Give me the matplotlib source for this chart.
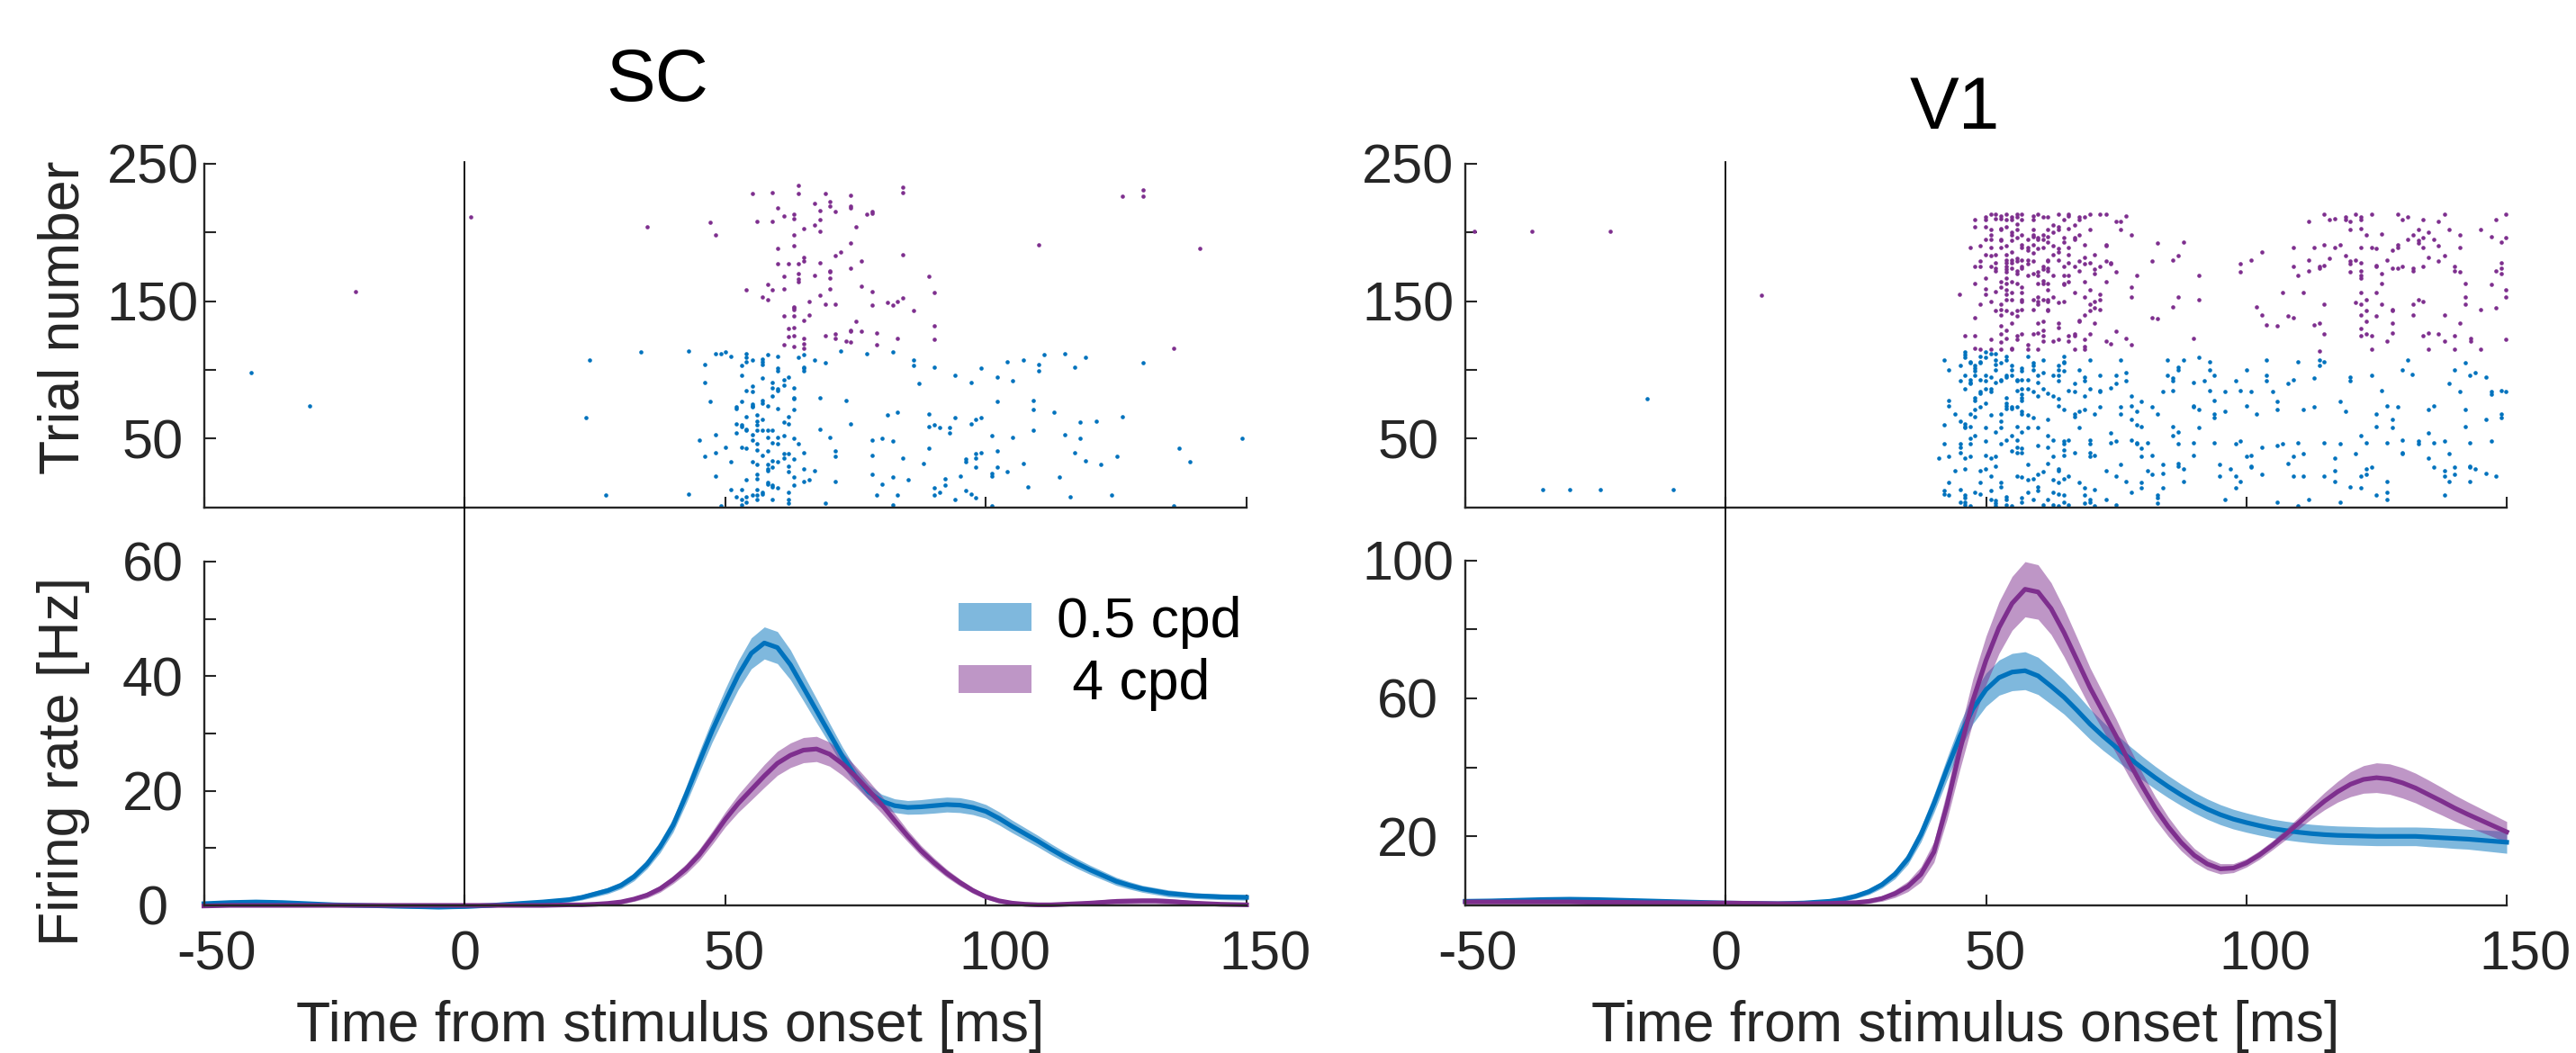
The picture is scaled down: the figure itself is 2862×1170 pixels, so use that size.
import numpy as np
import matplotlib.pyplot as plt
from matplotlib.patches import Patch
from matplotlib import transforms

plt.rcParams['font.family'] = ['Liberation Sans', 'DejaVu Sans']
plt.rcParams['axes.unicode_minus'] = False

# ---------------- data ----------------
# firing rate time base (ms)
t_rate = [-50, -45, -40, -35, -30, -25, -20, -15, -10, -5, 0, 5, 10, 15,
          20, 22.5, 25, 27.5, 30, 32.5, 35, 37.5, 40, 42.5, 45, 47.5, 50, 52.5, 55, 57.5, 60,
          62.5, 65, 67.5, 70, 72.5, 75, 77.5, 80, 82.5, 85, 87.5, 90, 92.5, 95, 97.5, 100,
          102.5, 105, 107.5, 110, 112.5, 115, 117.5, 120, 122.5, 125, 127.5, 130, 132.5, 135,
          137.5, 140, 142.5, 145, 147.5, 150]

sc_blue_rate = [0.3, 0.5, 0.6, 0.5, 0.3, 0.1, 0.0, -0.1, -0.2, -0.3, -0.2, 0.0, 0.3, 0.6,
                1.0, 1.4, 2.0, 2.6, 3.5, 5.0, 7.2, 10.2, 14.0, 19.3, 25.0, 30.5, 35.5, 40.2, 44.0,
                45.8, 45.0, 42.0, 38.0, 34.0, 30.0, 26.0, 22.5, 19.8, 18.2, 17.4, 17.1, 17.2, 17.4,
                17.6, 17.5, 17.1, 16.4, 15.2, 13.8, 12.5, 11.2,
                9.8, 8.5, 7.3, 6.2, 5.2, 4.2, 3.5, 2.9, 2.5, 2.1, 1.9, 1.7, 1.6, 1.5, 1.45, 1.4]
sc_blue_sem = [0.3, 0.3, 0.3, 0.3, 0.3, 0.3, 0.3, 0.3, 0.3, 0.3, 0.3, 0.3, 0.3, 0.3,
               0.4, 0.45, 0.5, 0.55, 0.6, 0.7, 0.8, 1.0, 1.2, 1.5, 1.8, 2.0, 2.3, 2.5, 2.7,
               2.8, 2.8, 2.6, 2.3, 2.1, 1.8, 1.6, 1.4, 1.3, 1.2, 1.2, 1.2, 1.25, 1.3,
               1.3, 1.3, 1.25, 1.2, 1.15, 1.1, 1.05, 1.0,
               0.95, 0.9, 0.85, 0.8, 0.75, 0.7, 0.65, 0.6, 0.6, 0.6, 0.55, 0.5, 0.5, 0.5, 0.5, 0.5]
sc_purple_rate = [-0.1, 0.0, 0.0, 0.0, 0.0, 0.0, 0.0, 0.0, 0.0, 0.0, 0.0, 0.0, 0.0, 0.0,
                  0.1, 0.1, 0.2, 0.35, 0.6, 1.1, 1.8, 2.9, 4.5, 6.4, 8.8, 11.8, 15.0, 17.8, 20.2,
                  22.6, 24.8, 26.2, 27.1, 27.3, 26.4, 24.7, 22.5, 20.1, 17.6, 14.8, 12.1, 9.6, 7.5,
                  5.6, 4.0, 2.6, 1.5, 0.8, 0.4, 0.2, 0.1,
                  0.1, 0.2, 0.3, 0.4, 0.55, 0.7, 0.75, 0.8, 0.8, 0.7, 0.55, 0.4, 0.3, 0.2, 0.15, 0.1]
sc_purple_sem = [0.2, 0.2, 0.2, 0.2, 0.2, 0.2, 0.2, 0.2, 0.2, 0.2, 0.2, 0.2, 0.2, 0.2,
                 0.2, 0.2, 0.25, 0.3, 0.35, 0.4, 0.5, 0.6, 0.7, 0.85, 1.0, 1.15, 1.3, 1.55, 1.8,
                 2.0, 2.1, 2.15, 2.2, 2.2, 2.1, 2.0, 1.8, 1.65, 1.5, 1.25, 1.0, 0.9, 0.8,
                 0.7, 0.6, 0.5, 0.4, 0.35, 0.3, 0.3, 0.3,
                 0.3, 0.3, 0.35, 0.4, 0.45, 0.5, 0.5, 0.5, 0.5, 0.5, 0.45, 0.4, 0.35, 0.3, 0.25, 0.2]

v1_blue_rate = [1.2, 1.3, 1.5, 1.7, 1.8, 1.7, 1.5, 1.3, 1.1, 0.9, 0.7, 0.6, 0.5, 0.7,
                1.2, 1.8, 2.7, 4.0, 6.0, 9.0, 13.5, 20.5, 29.5, 39.5, 49.0, 57.0, 62.5, 66.0, 67.6,
                68.0, 66.5, 63.5, 60.3, 56.5, 52.5, 49.0, 45.8, 42.7, 39.8, 37.0, 34.4, 32.0, 29.8,
                27.9, 26.3, 25.0, 24.0, 23.1, 22.3, 21.7, 21.2,
                20.8, 20.5, 20.3, 20.2, 20.1, 20.0, 20.0, 20.0, 20.0, 19.8, 19.6, 19.4, 19.2, 18.9,
                18.6, 18.3]
v1_blue_sem = [0.4, 0.4, 0.4, 0.4, 0.4, 0.4, 0.4, 0.4, 0.4, 0.4, 0.4, 0.4, 0.4, 0.4,
               0.5, 0.6, 0.7, 0.85, 1.0, 1.3, 1.6, 2.1, 2.6, 3.2, 3.8, 4.3, 4.8, 5.1, 5.4,
               5.5, 5.4, 5.2, 4.9, 4.7, 4.4, 4.1, 3.8, 3.6, 3.4, 3.3, 3.2, 3.1, 3.0,
               2.95, 2.9, 2.85, 2.8, 2.75, 2.7, 2.7, 2.7,
               2.7, 2.7, 2.7, 2.7, 2.7, 2.7, 2.7, 2.7, 2.7, 2.8, 2.8, 2.9, 2.9, 3.0, 3.1, 3.2]
v1_purple_rate = [1.0, 1.0, 1.0, 1.0, 1.0, 0.9, 0.9, 0.8, 0.8, 0.7, 0.7, 0.6, 0.5, 0.5,
                  0.6, 0.7, 0.8, 1.2, 2.0, 3.4, 5.5, 9.0, 15.5, 29.0, 45.0, 59.5, 71.0, 80.5, 87.5,
                  91.6, 90.8, 86.0, 79.0, 71.0, 63.0, 56.0, 49.0, 41.5, 34.6, 28.2, 22.8, 18.2, 14.5,
                  12.0, 10.6, 10.8, 12.3, 14.6, 17.4, 20.5, 23.8,
                  27.1, 30.2, 32.9, 35.1, 36.5, 37.0, 36.6, 35.5, 34.0, 32.1, 30.2, 28.2, 26.4, 24.7,
                  23.0, 21.3]
v1_purple_sem = [0.4, 0.4, 0.4, 0.4, 0.4, 0.4, 0.4, 0.4, 0.4, 0.4, 0.4, 0.4, 0.4, 0.4,
                 0.4, 0.45, 0.5, 0.6, 0.8, 1.1, 1.5, 2.2, 3.0, 4.2, 5.5, 6.3, 7.0, 7.5, 7.8,
                 8.0, 7.9, 7.5, 7.0, 6.5, 5.8, 5.4, 5.0, 4.4, 3.8, 3.3, 2.8, 2.4, 2.0,
                 1.7, 1.5, 1.3, 1.2, 1.25, 1.3, 1.5, 1.7,
                 2.0, 2.5, 3.0, 3.6, 4.0, 4.3, 4.4, 4.4, 4.3, 4.2, 4.0, 3.8, 3.6, 3.4, 3.2, 3.0]

# raster spikes: (time ms, trial)
sc_blue_spikes = [
    (48.1, 112), (49.1, 112), (50.1, 113), (51.1, 110), (54.1, 112), (54.1, 109), (54.1, 106),
    (55.2, 107), (57.1, 108), (57.1, 106), (57.1, 104), (58.1, 111), (60.1, 110), (64.1, 109),
    (65.1, 111), (67.1, 107), (69.2, 105), (72.1, 114), (77.1, 112), (82.1, 113), (86.1, 107),
    (86.1, 103), (90.1, 102), (46.1, 104), (53.1, 103), (60.1, 101), (60.1, 99), (65.1, 102),
    (65.1, 101), (65.1, 99), (99.1, 101), (104.1, 106), (107.1, 107), (110.1, 104), (110.1, 99),
    (111.1, 111), (115.1, 112), (119.1, 109), (117.1, 102), (130.1, 105),
    (53.1, 96), (57.1, 94), (59.1, 91), (59.1, 87), (61.2, 93), (61.2, 89), (62.1, 95), (60.1, 86),
    (60.1, 85), (54.1, 85), (55.2, 88), (55.2, 84), (63.2, 87), (46.1, 91), (94.1, 96), (97.1, 91),
    (102.1, 95), (105.1, 92), (87.1, 90),
    (59.1, 81), (63.2, 80), (63.2, 79), (68.1, 80), (73.1, 78), (53.1, 77), (55.2, 75), (55.2, 74),
    (55.2, 73), (57.1, 78), (57.1, 76), (58.1, 74), (52.2, 73), (52.2, 72), (60.1, 72), (63.2, 71),
    (47.1, 77), (102.1, 77), (109.1, 78), (109.1, 71), (113.1, 69),
    (54.1, 66), (56.1, 67), (56.1, 63), (57.1, 64), (62.1, 66), (61.2, 62), (62.1, 61), (52.2, 61),
    (53.1, 60), (53.1, 59), (54.1, 57), (54.1, 56), (56.1, 60), (56.1, 56), (57.1, 56), (58.1, 56),
    (59.1, 56), (68.1, 57), (74.1, 61), (81.1, 67), (83.1, 69), (89.1, 68), (89.1, 59), (90.1, 60),
    (91.1, 58), (93.1, 58), (93.1, 54), (94.1, 65), (97.1, 61), (98.1, 64), (99.1, 65), (118.1, 62),
    (121.1, 63), (126.1, 66), (109.1, 56),
    (48.1, 53), (52.2, 54), (55.2, 53), (55.2, 49), (58.1, 51), (60.1, 51), (61.2, 52), (63.2, 50),
    (64.1, 46), (56.1, 46), (60.1, 46), (59.1, 47), (70.1, 51), (78.1, 49), (80.1, 50), (82.1, 48),
    (101.1, 52), (105.1, 51), (115.1, 53), (118.1, 50), (149.1, 50), (45.1, 49),
    (50.1, 44), (53.1, 44), (54.1, 43), (56.1, 42), (57.1, 38), (58.1, 41), (61.2, 39), (61.2, 36),
    (62.1, 39), (63.2, 35), (65.1, 40), (71.1, 41), (71.1, 37), (78.1, 38), (84.1, 36), (89.1, 43),
    (96.1, 35), (96.1, 33), (98.1, 39), (98.1, 36), (99.1, 40), (102.1, 41), (117.1, 40), (137.1, 43),
    (46.1, 37), (48.1, 40),
    (51.1, 33), (55.2, 33), (56.1, 31), (58.1, 31), (58.1, 28), (58.1, 27), (59.1, 29), (59.1, 34),
    (60.1, 33), (62.1, 30), (62.1, 26), (67.1, 27), (65.1, 28), (88.1, 32), (98.1, 29), (102.1, 29),
    (104.1, 26), (107.1, 32), (119.1, 34), (122.1, 31), (125.1, 37), (139.1, 33),
    (48.1, 23), (54.1, 20), (56.1, 24), (56.1, 21), (58.1, 18), (58.1, 17), (59.1, 16), (59.1, 15),
    (60.1, 14), (63.2, 22), (63.2, 16), (65.1, 19), (66.1, 20), (71.1, 19), (78.1, 24), (80.1, 17),
    (82.1, 22), (85.1, 20), (92.1, 21), (92.1, 16), (95.1, 23), (101.1, 25), (101.1, 23), (114.1, 22),
    (108.1, 15),
    (51.1, 13), (53.1, 13), (56.1, 13), (57.1, 11), (57.1, 10), (55.2, 9), (54.1, 8), (52.2, 8),
    (53.1, 6), (54.1, 4), (56.1, 9), (56.1, 6), (59.1, 6), (62.1, 11), (62.1, 6), (62.1, 3), (53.1, 2),
    (69.2, 3), (79.1, 9), (83.1, 9), (90.1, 14), (90.1, 9), (91.1, 11), (94.1, 6), (96.1, 12),
    (97.1, 10), (98.1, 7), (116.1, 8), (124.1, 9), (49.1, 1), (82.1, 2), (101.1, 1), (136.1, 1),
    (-40.9, 98), (-29.8, 74), (24.0, 107), (23.2, 65), (27.0, 9), (33.9, 113), (43.0, 114), (43.0, 10),
]

sc_purple_spikes = [
    (64.0, 234), (84.1, 233), (55.2, 228), (59.1, 229), (64.1, 228), (69.2, 228), (74.1, 227),
    (84.1, 229), (126.1, 226), (130.1, 231), (130.1, 226),
    (67.1, 221), (70.1, 222), (70.1, 219), (74.1, 219), (74.1, 218), (60.1, 218), (68.1, 216),
    (71.1, 215), (61.2, 212), (63.2, 213), (63.2, 210), (77.1, 213), (78.1, 215), (78.1, 214),
    (47.1, 207), (56.1, 208), (59.1, 208), (68.1, 209), (67.1, 205), (65.1, 203), (68.1, 201),
    (75.1, 204), (48.1, 198), (63.2, 198), (63.2, 190), (74.1, 192), (60.1, 188), (72.1, 186),
    (71.1, 183), (84.1, 184), (110.1, 191), (141.1, 188),
    (65.1, 182), (65.1, 179), (68.1, 178), (76.1, 179), (60.1, 177), (62.1, 177), (64.1, 177),
    (74.1, 174), (64.1, 170), (70.1, 172), (70.1, 171), (70.1, 167), (67.1, 169), (61.2, 168),
    (64.1, 166), (64.1, 164), (89.1, 168),
    (58.1, 162), (54.1, 158), (59.1, 158), (61.2, 159), (70.1, 159), (76.1, 161), (78.1, 157),
    (90.1, 156), (57.1, 153), (58.1, 151), (68.1, 154), (66.1, 150), (69.2, 148), (71.1, 148),
    (78.1, 147), (81.1, 149), (82.1, 147), (83.1, 150), (84.1, 152), (86.1, 143),
    (63.2, 146), (63.2, 145), (63.2, 144), (61.2, 139), (63.2, 139), (66.1, 140), (65.1, 136),
    (75.1, 135), (62.1, 130), (63.2, 131), (74.1, 129), (74.1, 128), (76.1, 128), (79.1, 127),
    (90.1, 132),
    (62.1, 124), (63.2, 125), (65.1, 123), (69.2, 125), (71.1, 126), (71.1, 123), (73.1, 121),
    (74.1, 120), (79.1, 118), (83.1, 123), (90.1, 122), (61.2, 118), (63.2, 117), (65.1, 119),
    (65.1, 116), (136.1, 116),
    (1.2, 211), (35.0, 204), (-20.9, 157),
]

v1_blue_spikes = [
    (42.0, 107), (42.9, 100), (45.0, 103), (45.9, 113), (45.9, 111), (45.9, 109), (47.0, 106),
    (47.0, 105), (47.9, 103), (47.9, 101), (47.9, 99), (47.9, 96), (48.9, 110), (48.9, 106),
    (48.9, 105), (49.9, 113), (49.9, 109), (50.9, 112), (51.9, 112), (51.9, 107), (51.9, 104),
    (51.9, 100), (52.9, 105), (53.9, 110), (53.9, 107), (54.9, 103), (54.9, 100), (56.9, 101),
    (56.9, 99), (58.0, 110), (59.0, 105), (59.0, 103), (59.0, 100), (61.0, 107), (64.0, 103),
    (64.0, 100), (64.9, 110), (64.9, 106), (64.9, 105), (64.9, 99), (67.9, 100), (70.0, 107),
    (75.9, 107), (84.9, 107), (86.9, 102), (86.9, 100), (87.9, 107), (90.9, 109), (92.9, 106),
    (92.9, 100), (93.9, 96),
    (45.0, 92), (45.9, 96), (45.9, 86), (47.0, 93), (47.0, 91), (47.0, 90), (48.9, 93), (49.9, 96),
    (49.9, 92), (50.9, 95), (51.9, 91), (52.9, 93), (52.9, 92), (53.9, 96), (53.9, 95), (54.9, 96),
    (56.0, 93), (56.0, 92), (56.9, 93), (58.0, 93), (59.9, 96), (59.9, 91), (61.0, 98), (62.9, 96),
    (64.0, 96), (64.0, 92), (67.0, 90), (68.9, 95), (68.9, 92), (71.9, 96), (73.9, 87), (74.9, 96),
    (74.9, 90), (76.9, 98), (76.9, 92), (84.9, 96), (85.9, 94), (85.9, 92), (89.9, 91), (91.9, 92),
    (92.9, 85), (84.0, 84), (85.9, 85),
    (42.9, 78), (42.9, 74), (47.9, 80), (47.9, 78), (48.9, 83), (48.9, 84), (49.9, 86), (50.9, 86),
    (50.9, 84), (53.9, 80), (53.9, 76), (53.9, 74), (54.9, 72), (56.0, 85), (56.0, 73), (56.9, 86),
    (56.9, 82), (56.9, 80), (56.9, 78), (58.0, 86), (59.0, 84), (59.9, 81), (61.0, 86), (61.9, 83),
    (62.9, 81), (64.0, 79), (64.0, 74), (64.9, 71), (65.9, 85), (67.0, 84), (68.9, 81), (70.0, 86),
    (71.9, 85), (71.9, 84), (78.0, 81), (79.9, 77), (93.9, 78),
    (44.0, 68), (45.0, 63), (45.9, 61), (45.9, 59), (45.9, 58), (47.0, 59), (47.0, 68), (47.9, 71),
    (47.9, 66), (48.9, 73), (49.9, 76), (49.9, 58), (50.9, 67), (51.9, 55), (52.9, 68), (52.9, 63),
    (52.9, 58), (53.9, 72), (54.9, 73), (56.0, 59), (56.9, 70), (56.9, 68), (56.9, 55), (58.0, 67),
    (58.0, 58), (59.0, 65), (59.9, 58), (61.9, 64), (67.0, 68), (67.0, 66), (67.9, 70), (67.9, 58),
    (68.9, 71), (70.9, 68), (71.9, 73), (75.9, 73), (75.9, 68), (78.0, 74), (78.0, 64), (78.9, 70),
    (78.9, 60), (79.9, 59), (81.9, 73), (82.9, 68), (89.9, 74), (89.9, 73), (90.9, 71), (93.9, 68),
    (93.9, 65), (85.9, 59),
    (42.0, 60), (42.0, 46), (45.0, 46), (45.0, 44), (45.0, 40), (45.9, 36), (47.0, 50), (47.0, 46),
    (47.9, 52), (49.9, 48), (52.9, 46), (53.9, 49), (54.9, 52), (56.0, 49), (56.0, 44), (56.0, 40),
    (56.9, 43), (56.9, 40), (59.9, 45), (61.9, 52), (61.9, 44), (62.9, 49), (64.9, 48), (64.9, 46),
    (65.9, 49), (64.9, 42), (64.9, 38), (67.0, 40), (70.0, 49), (70.0, 46), (70.0, 40), (70.0, 37),
    (70.9, 38), (73.9, 54), (73.9, 47), (74.9, 48), (78.0, 49), (78.9, 47), (78.9, 46), (79.9, 43),
    (81.0, 47), (81.9, 38), (79.9, 37), (85.9, 52), (86.9, 55), (86.9, 46), (89.9, 47), (89.9, 38),
    (90.9, 58), (93.9, 47),
    (40.9, 36), (42.9, 37), (47.0, 37), (49.9, 38), (50.9, 36), (51.9, 37), (54.9, 41), (62.9, 37),
    (51.9, 30), (58.0, 31), (61.9, 32), (44.0, 27), (45.9, 28), (48.9, 27), (49.9, 28), (50.9, 23),
    (64.0, 28), (64.0, 27), (73.0, 27), (75.9, 31), (81.0, 27), (81.9, 24), (84.0, 31), (84.0, 25),
    (86.9, 32), (86.9, 30), (87.9, 28), (94.9, 31), (94.9, 23),
    (42.9, 18), (48.9, 18), (52.9, 18), (52.9, 15), (56.0, 23), (56.9, 22), (58.0, 20), (59.0, 21),
    (59.9, 24), (59.9, 15), (61.0, 26), (62.9, 20), (64.0, 18), (64.9, 21), (65.9, 23), (67.9, 18),
    (68.9, 14), (70.9, 13), (74.9, 23), (76.9, 19), (79.9, 18), (79.9, 14), (84.0, 14), (87.9, 19),
    (42.0, 12), (42.0, 10), (42.9, 9), (45.0, 13), (45.9, 9), (45.9, 7), (45.9, 4), (45.9, 2),
    (47.0, 1), (47.9, 11), (48.9, 10), (50.9, 12), (50.9, 6), (51.9, 5), (51.9, 3), (51.9, 1),
    (53.9, 8), (53.9, 6), (53.9, 2), (54.9, 1), (56.9, 7), (56.9, 4), (58.0, 11), (59.0, 6),
    (59.9, 12), (61.0, 2), (61.9, 6), (62.9, 11), (62.9, 2), (64.0, 10), (64.0, 1), (64.9, 9),
    (64.9, 4), (65.9, 2), (68.9, 9), (68.9, 3), (70.0, 6), (70.0, 4), (70.9, 1), (73.0, 6), (74.9, 2),
    (78.0, 11), (82.9, 9), (82.9, 7), (82.9, 3), (45.0, 4),
    (103.9, 107), (109.9, 106), (114.0, 107), (114.0, 103), (114.9, 106), (131.0, 107), (142.0, 105),
    (100.0, 100), (130.0, 100), (139.9, 100), (131.9, 97), (142.9, 96), (144.0, 98), (146.0, 95),
    (103.9, 96), (103.9, 92), (97.9, 92), (108.0, 90), (109.0, 93), (113.0, 94), (120.0, 95),
    (120.0, 92), (124.0, 96), (139.0, 90),
    (95.9, 84), (98.9, 85), (100.9, 84), (105.0, 84), (126.0, 85), (141.0, 84), (147.0, 84),
    (147.0, 82), (149.0, 85), (149.9, 84), (106.0, 77), (118.0, 77),
    (100.0, 74), (106.0, 71), (111.0, 71), (113.0, 73), (119.0, 70), (127.0, 74), (129.0, 73),
    (135.0, 71), (136.0, 74), (142.0, 71), (95.9, 70), (101.9, 68), (125.0, 68), (128.0, 64),
    (149.0, 68), (149.0, 65), (146.0, 64),
    (125.0, 59), (128.0, 58), (142.0, 59), (135.0, 54), (122.0, 52), (130.0, 49), (133.0, 48),
    (133.0, 46), (138.0, 48), (147.0, 48), (97.9, 46), (98.9, 48), (103.0, 44), (106.0, 45),
    (106.9, 46), (109.9, 47), (114.9, 47), (118.0, 46), (123.0, 47), (127.0, 47), (136.0, 47),
    (142.9, 47),
    (100.0, 37), (100.9, 38), (109.0, 37), (111.0, 39), (117.0, 36), (121.0, 39), (130.0, 40),
    (130.0, 39), (135.0, 36), (139.0, 39), (97.0, 28), (100.9, 30), (100.9, 29), (108.0, 32),
    (117.0, 27), (124.0, 29), (123.0, 28), (136.0, 29), (138.0, 27), (139.9, 29), (142.9, 30),
    (142.9, 29), (144.0, 28), (97.9, 23), (103.0, 24), (109.0, 23), (111.0, 23), (114.9, 23),
    (122.0, 23), (123.0, 24), (138.0, 23), (139.9, 24), (146.0, 25), (148.0, 23),
    (98.9, 19), (97.9, 14), (117.0, 19), (120.0, 15), (122.0, 14), (127.0, 19), (139.0, 19),
    (142.9, 19), (95.9, 6), (106.0, 4), (109.9, 1), (111.9, 6), (118.0, 4), (125.0, 9), (127.0, 11),
    (127.0, 6), (138.0, 9),
    (-35.1, 13), (-30.0, 13), (-24.1, 13), (-10.1, 13), (-15.1, 79),
]

v1_purple_spikes = [
    (50.9, 213), (51.9, 213), (51.9, 210), (52.9, 212), (52.9, 210), (53.9, 213), (53.9, 209),
    (54.9, 211), (54.9, 209), (56.0, 213), (56.0, 211), (56.9, 213), (56.9, 209), (59.0, 212),
    (59.0, 209), (59.9, 213), (61.0, 211), (61.9, 211), (64.0, 213), (64.9, 209), (65.9, 213),
    (65.9, 212), (67.9, 211), (67.9, 209), (68.9, 211), (70.0, 213), (71.9, 213), (73.0, 213),
    (74.9, 208), (75.9, 208), (76.9, 212), (47.9, 209), (49.9, 211), (49.9, 209), (56.0, 206),
    (47.9, 204), (49.9, 204), (50.9, 202), (52.9, 203), (52.9, 202), (53.9, 204), (54.9, 200),
    (56.0, 202), (56.9, 198), (59.0, 202), (59.0, 198), (61.0, 198), (61.9, 202), (62.9, 205),
    (62.9, 200), (64.0, 204), (64.0, 202), (65.9, 203), (67.0, 205), (67.9, 198), (70.0, 202),
    (75.9, 202), (78.0, 198),
    (49.9, 195), (50.9, 198), (50.9, 195), (52.9, 195), (52.9, 194), (54.9, 198), (54.9, 194),
    (56.0, 196), (58.0, 195), (59.0, 197), (59.9, 196), (59.9, 195), (61.0, 195), (61.9, 197),
    (64.9, 196), (64.9, 193), (67.0, 196), (67.0, 195), (68.9, 191), (73.0, 191), (73.0, 190),
    (82.9, 192), (87.9, 193),
    (46.9, 189), (48.9, 190), (50.9, 189), (52.9, 189), (53.9, 190), (56.9, 191), (56.9, 189),
    (58.0, 189), (58.0, 187), (59.0, 191), (59.9, 188), (61.0, 189), (61.9, 193), (62.9, 190),
    (64.0, 188), (64.0, 186), (65.9, 189), (59.0, 185),
    (49.9, 184), (50.9, 183), (51.9, 184), (53.9, 184), (54.9, 186), (62.9, 184), (65.9, 184),
    (68.9, 182), (70.9, 184), (51.9, 178), (48.9, 179), (53.9, 180), (53.9, 178), (54.9, 180),
    (54.9, 178), (56.0, 181), (56.0, 179), (56.9, 180), (58.0, 180), (58.0, 177), (59.0, 179),
    (61.9, 180), (61.9, 179), (64.0, 180), (65.9, 178), (67.9, 179), (68.9, 177), (70.0, 178),
    (73.0, 179), (73.9, 178), (73.9, 177), (81.9, 179), (85.9, 180), (86.9, 183),
    (47.9, 175), (48.9, 175), (50.9, 175), (51.9, 174), (51.9, 172), (53.9, 175), (53.9, 173),
    (53.9, 171), (54.9, 174), (56.0, 172), (56.0, 170), (56.9, 175), (56.9, 174), (58.0, 169),
    (59.0, 170), (59.9, 171), (59.9, 169), (61.0, 175), (61.0, 173), (61.9, 174), (61.9, 172),
    (62.9, 169), (64.9, 175), (64.9, 169), (65.9, 169), (67.0, 175), (67.9, 172), (70.9, 173),
    (70.9, 170), (71.9, 175), (74.9, 171), (78.9, 169), (90.9, 169),
    (47.9, 163), (49.9, 167), (49.9, 159), (51.9, 157), (52.9, 164), (52.9, 160), (53.9, 167),
    (53.9, 163), (53.9, 158), (54.9, 164), (54.9, 156), (56.0, 163), (56.9, 160), (56.9, 156),
    (59.9, 163), (61.0, 165), (61.0, 163), (61.9, 163), (61.9, 158), (64.9, 163), (64.9, 162),
    (65.9, 164), (68.9, 164), (73.0, 164), (78.0, 160), (44.9, 155), (49.9, 155), (53.9, 155),
    (67.0, 156), (70.0, 158), (71.9, 155),
    (48.9, 148), (50.9, 150), (52.9, 148), (53.9, 151), (54.9, 151), (56.9, 151), (56.9, 150),
    (59.0, 151), (59.9, 153), (59.9, 150), (59.9, 148), (61.0, 151), (61.9, 151), (61.9, 150),
    (62.9, 153), (64.0, 149), (64.9, 150), (68.9, 153), (70.0, 148), (70.9, 150), (71.9, 151),
    (78.0, 153), (86.9, 153), (90.9, 151),
    (47.9, 138), (51.9, 143), (52.9, 144), (52.9, 140), (53.9, 143), (54.9, 141), (56.0, 143),
    (56.0, 139), (56.9, 144), (59.0, 144), (61.9, 144), (61.9, 143), (68.9, 140), (70.0, 143),
    (70.9, 145), (71.9, 144), (81.9, 138), (82.9, 137), (85.9, 146),
    (52.9, 132), (53.9, 129), (54.9, 134), (59.9, 134), (61.0, 135), (61.0, 129), (64.0, 134),
    (64.0, 131), (67.9, 136), (67.9, 135), (70.9, 134), (74.9, 128),
    (45.9, 125), (47.9, 125), (50.9, 122), (52.9, 126), (52.9, 120), (53.9, 123), (56.0, 125),
    (56.0, 122), (56.9, 126), (59.0, 126), (59.9, 127), (61.0, 125), (61.0, 121), (62.9, 121),
    (64.0, 122), (65.9, 125), (65.9, 121), (67.0, 126), (67.0, 125), (68.9, 122), (70.0, 126),
    (73.0, 121), (73.9, 119), (76.9, 123), (78.0, 118), (89.9, 123), (47.9, 116), (48.9, 115),
    (50.9, 115), (52.9, 115), (54.9, 116), (54.9, 115), (58.0, 118), (58.0, 115), (59.9, 115),
    (67.0, 115), (68.9, 117), (68.9, 115),
    (114.9, 213), (116.0, 209), (117.0, 210), (119.0, 211), (119.0, 209), (120.0, 208), (121.0, 213),
    (122.0, 211), (122.0, 209), (124.0, 213), (129.0, 213), (130.0, 209), (131.0, 211), (134.0, 209),
    (136.9, 208), (138.0, 213), (148.0, 209), (149.9, 213), (111.9, 208),
    (120.0, 202), (122.0, 203), (123.0, 198), (126.0, 199), (133.0, 202), (132.0, 198), (131.0, 195),
    (133.0, 194), (133.0, 192), (134.0, 196), (135.0, 200), (136.0, 195), (139.0, 202), (141.0, 198),
    (145.0, 202), (147.0, 197), (149.0, 193), (149.9, 196),
    (103.0, 186), (109.0, 189), (113.0, 189), (114.9, 191), (117.0, 189), (118.0, 191), (122.0, 189),
    (124.0, 189), (125.0, 188), (128.0, 187), (129.0, 191), (129.0, 189), (134.0, 189), (136.9, 190),
    (141.0, 189),
    (98.9, 177), (100.9, 180), (98.9, 171), (109.0, 175), (111.9, 180), (114.0, 175), (114.0, 174),
    (114.9, 176), (116.0, 181), (119.0, 183), (120.0, 179), (120.0, 177), (121.0, 180), (122.0, 178),
    (125.0, 176), (125.0, 175), (127.0, 180), (128.0, 174), (129.0, 174), (130.0, 175), (132.0, 174),
    (132.0, 172), (134.0, 175), (135.0, 182), (136.9, 179), (138.0, 183), (139.9, 175), (139.9, 172),
    (141.0, 171), (149.0, 178), (149.0, 174), (148.0, 172), (149.0, 170),
    (109.9, 169), (111.9, 172), (120.0, 171), (122.0, 172), (122.0, 169), (122.0, 167), (126.0, 170),
    (126.0, 163), (142.0, 163), (147.0, 162), (149.9, 158),
    (106.9, 156), (111.0, 156), (122.0, 156), (125.0, 156), (101.9, 146), (114.9, 148), (121.0, 149),
    (122.0, 148), (123.0, 151), (126.0, 148), (132.0, 148), (133.0, 151), (134.0, 150), (142.0, 153),
    (142.0, 148), (149.9, 153), (145.0, 144), (148.0, 145),
    (103.0, 140), (103.9, 133), (106.0, 132), (108.0, 139), (109.0, 138), (113.0, 133), (114.0, 134),
    (122.0, 140), (123.0, 143), (125.0, 139), (128.0, 144), (128.0, 143), (132.0, 140), (138.0, 140),
    (128.0, 134), (123.0, 135), (122.0, 130), (141.0, 134),
    (114.9, 126), (122.0, 125), (123.0, 126), (124.0, 125), (127.0, 121), (128.0, 127), (134.0, 125),
    (135.0, 127), (136.9, 126), (138.0, 121), (139.9, 125), (143.0, 123), (143.0, 121), (149.9, 122),
    (114.0, 114), (124.0, 115), (135.0, 115), (139.9, 115), (145.0, 115),
    (-48.2, 201), (-37.2, 201), (-22.1, 201), (6.9, 154),
]

x_ticks = [-50, 0, 50, 100, 150]
legend_labels = ['0.5 cpd', ' 4 cpd']

# ---------------- style ----------------
blue = '#0072BD'
purple = '#7E2F8E'
axis_color = '#262626'
W, H = 2862, 1170
fs = 45
# small rightward nudge (px) of the x tick labels, as in the original export
xlabel_shift = [14, 0, 10, 21, 20]

fig = plt.figure(figsize=(W / 100, H / 100), dpi=100)


def px_axes(x0, x1, y_top, y_bot):
    return fig.add_axes([x0 / W, 1 - y_bot / H, (x1 - x0) / W, (y_bot - y_top) / H])


def style(ax, ypad):
    ax.spines['top'].set_visible(False)
    ax.spines['right'].set_visible(False)
    for s in ['left', 'bottom']:
        ax.spines[s].set_linewidth(1.7)
        ax.spines[s].set_color(axis_color)
    ax.tick_params(direction='in', length=9, width=1.5, colors=axis_color, labelsize=fs - 1)
    ax.tick_params(axis='y', pad=ypad)
    ax.tick_params(axis='x', pad=20)
    ax.set_xlim(-50, 150)
    ax.set_xticks(x_ticks)


sc_raster = px_axes(226.5, 1385, 181.7, 563.8)
sc_rate = px_axes(226.5, 1385, 624, 1006)
v1_raster = px_axes(1628, 2785, 181.7, 563.8)
v1_rate = px_axes(1628, 2785, 622.5, 1006)

# rasters
for ax, blue_sp, purple_sp, ypad in [(sc_raster, sc_blue_spikes, sc_purple_spikes, 41),
                                     (v1_raster, v1_blue_spikes, v1_purple_spikes, 46)]:
    style(ax, ypad)
    bt, btr = np.array(blue_sp).T
    pt, ptr = np.array(purple_sp).T
    ax.plot(bt, btr, 'o', ms=3.3, mew=0, color=blue, clip_on=False)
    ax.plot(pt, ptr, 'o', ms=3.3, mew=0, color=purple, clip_on=False)
    ax.set_ylim(0, 250)
    ax.set_yticks([50, 100, 150, 200, 250], ['50', '', '150', '', '250'])
    ax.tick_params(axis='x', labelbottom=False)

# firing rates
tr = np.array(t_rate)
for ax, curves, ylim, yt, ytl, ypad in [
        (sc_rate, [(sc_blue_rate, sc_blue_sem, blue), (sc_purple_rate, sc_purple_sem, purple)],
         60, [0, 10, 20, 30, 40, 50, 60], ['0', '', '20', '', '40', '', '60'], 41),
        (v1_rate, [(v1_blue_rate, v1_blue_sem, blue), (v1_purple_rate, v1_purple_sem, purple)],
         100, [20, 40, 60, 80, 100], ['20', '', '60', '', '100'], 46)]:
    style(ax, ypad)
    for rate, sem, c in curves:
        r = np.array(rate)
        s = np.array(sem)
        ax.fill_between(tr, r - s, r + s, color=c, alpha=0.5, lw=0, clip_on=False)
    for rate, sem, c in curves:
        ax.plot(tr, rate, color=c, lw=3.7, clip_on=False, solid_joinstyle='round')
    ax.set_ylim(0, ylim)
    ax.set_yticks(yt, ytl)
    for lab, dx in zip(ax.get_xticklabels(), xlabel_shift):
        lab.set_transform(lab.get_transform() +
                          transforms.ScaledTranslation(dx / 100, 0, fig.dpi_scale_trans))

for ax in [sc_raster, sc_rate, v1_raster, v1_rate]:
    for lab in ax.get_yticklabels():
        lab.set_horizontalalignment('center')

# stimulus onset line spanning raster and rate panels
for ax in [sc_rate, v1_rate]:
    trans = transforms.blended_transform_factory(ax.transData, fig.transFigure)
    ax.plot([0, 0], [1 - 1006 / H, 1 - 180 / H], color='k', lw=1.3, transform=trans, clip_on=False)

# legend
handles = [Patch(facecolor=blue, alpha=0.5, lw=0), Patch(facecolor=purple, alpha=0.5, lw=0)]
sc_rate.legend(handles, legend_labels, loc='upper left', bbox_to_anchor=(0.7238, 0.9005),
               frameon=False, fontsize=fs, handlelength=1.3, handleheight=0.4,
               handletextpad=0.45, labelspacing=0.16, borderpad=0, borderaxespad=0)

# labels and titles
fig.text(71 / W, 1 - 353 / H, 'Trial number', rotation=90, ha='center', va='center',
         fontsize=fs, color=axis_color)
fig.text(71 / W, 1 - 846 / H, 'Firing rate [Hz]', rotation=90, ha='center', va='center',
         fontsize=fs, color=axis_color)
fig.text(744.5 / W, 1 - 1157 / H, 'Time from stimulus onset [ms]', ha='center', va='baseline',
         fontsize=fs, color=axis_color)
fig.text(2184 / W, 1 - 1157 / H, 'Time from stimulus onset [ms]', ha='center', va='baseline',
         fontsize=fs, color=axis_color)
fig.text(730 / W, 1 - 112 / H, 'SC', ha='center', va='baseline', fontsize=59, color='k')
fig.text(2172 / W, 1 - 143 / H, 'V1', ha='center', va='baseline', fontsize=59, color='k')

fig.savefig('out.png', dpi=100)
